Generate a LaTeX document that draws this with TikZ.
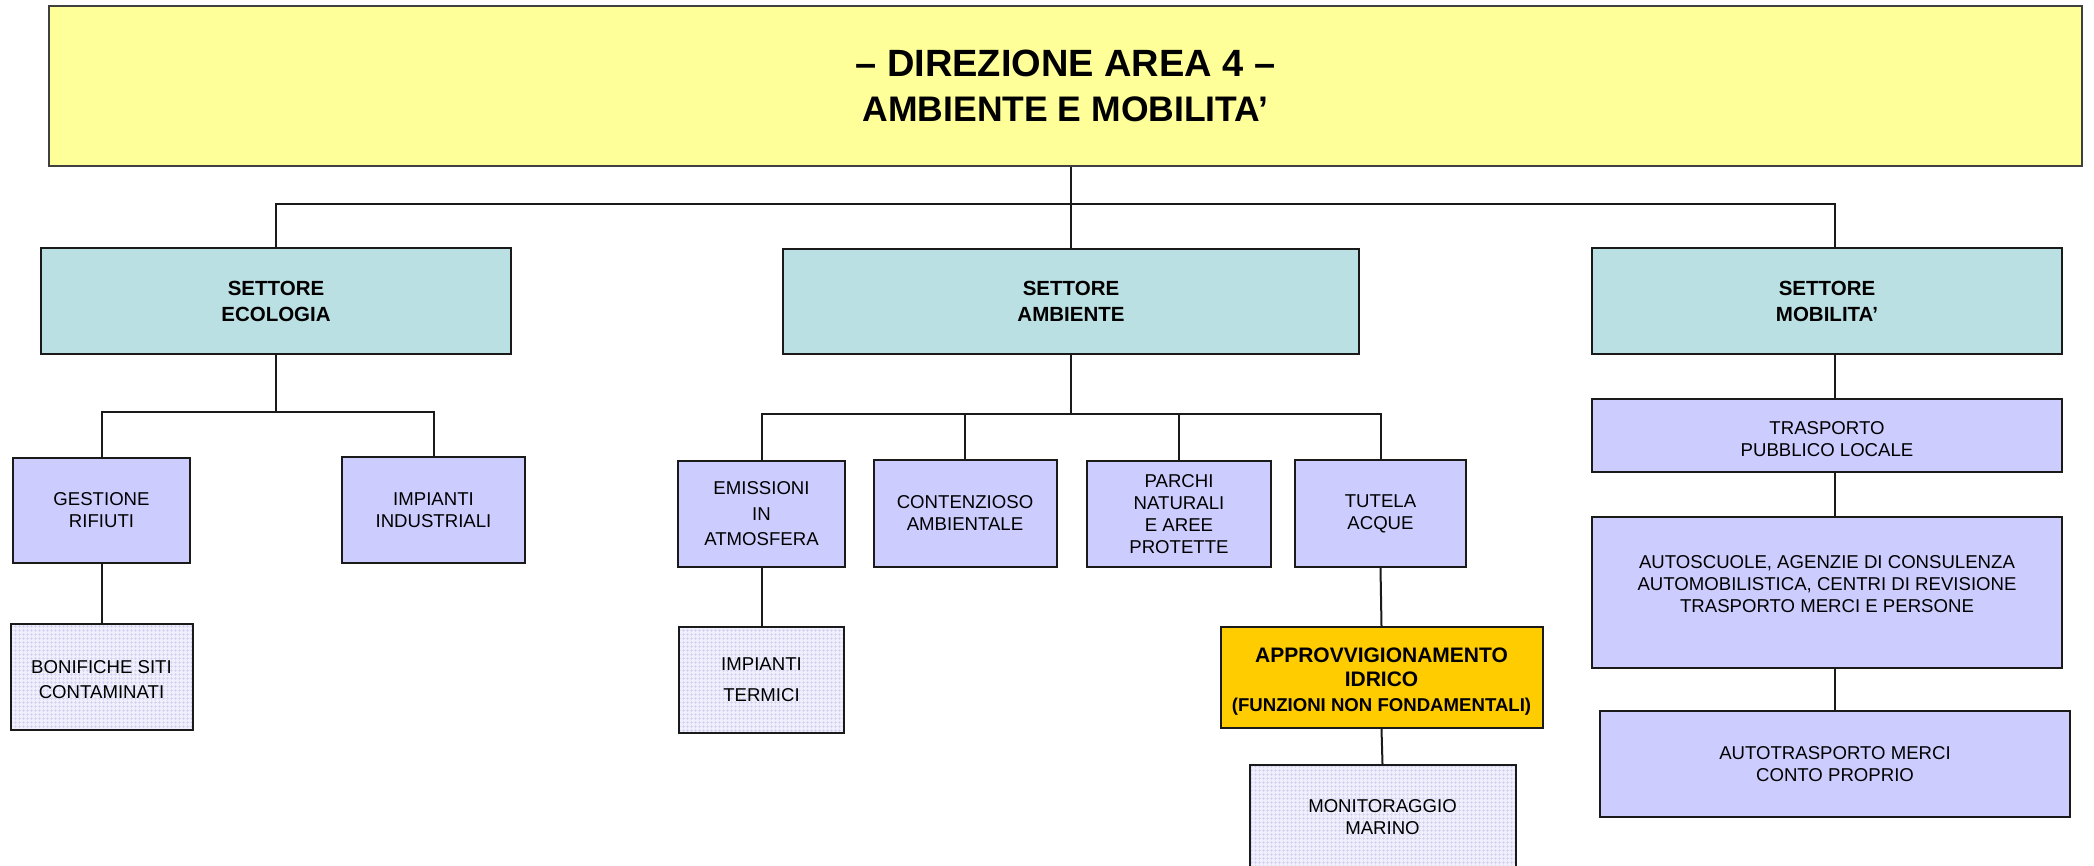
\documentclass[tikz,border=0pt]{standalone}
\usepackage{fontspec}
\setmainfont{Liberation Sans}
\usetikzlibrary{patterns.meta}
\definecolor{titlefill}{HTML}{FFFF99}
\definecolor{tealfill}{HTML}{BBE0E3}
\definecolor{lavfill}{HTML}{CCCCFF}
\definecolor{goldfill}{HTML}{FFCC00}
\definecolor{patbg}{HTML}{F0F0FC}
\definecolor{patline}{HTML}{CDCDF0}
\definecolor{edge}{HTML}{1A1A1A}
\begin{document}
\begin{tikzpicture}[x=1pt,y=-1pt,
  box/.style={draw=edge, line width=2pt, rectangle, inner sep=0pt, align=center, text=black},
  reg/.style={font=\fontsize{18.6}{22}\selectfont},
  settore/.style={box, fill=tealfill, font=\bfseries\fontsize{20.5}{26}\selectfont},
  ufficio/.style={box, fill=lavfill, reg},
  retino/.style={box, reg, preaction={fill=patbg}, pattern={Hatch[distance=4pt,angle=0,line width=0.6pt]}, pattern color=patline},
  conn/.style={draw=edge, line width=2pt},
  sz/.style 2 args={minimum width=#1pt, minimum height=#2pt}
]
\useasboundingbox (0,0) rectangle (2094,866);

% title
\node[box, fill=titlefill, draw=black!75, line width=2.5pt, sz={2033}{160},
  label={[font=\bfseries\fontsize{38}{45}\selectfont, align=center]center:{{\fontsize{38}{45}\selectfont – DIREZIONE AREA 4 –}\\{\fontsize{35.5}{45}\selectfont AMBIENTE E MOBILITA’}}}] (title) at (1065.5,86) {};

% level 1
\node[settore, sz={470}{106}] (eco) at (276,301) {SETTORE\\ECOLOGIA};
\node[settore, sz={576}{105}] (amb) at (1071,301.5) {SETTORE\\AMBIENTE};
\node[settore, sz={470}{106}] (mob) at (1827,301) {SETTORE\\MOBILITA’};

% ecologia
\node[ufficio, sz={177}{105}] (gest) at (101.5,510.5) {GESTIONE\\RIFIUTI};
\node[ufficio, sz={183}{106}] (impind) at (433.5,510) {IMPIANTI\\INDUSTRIALI};
\node[retino, sz={182}{106},
  label={[reg, font=\fontsize{18.6}{25}\selectfont, align=center, yshift=-3pt]center:{BONIFICHE SITI\\CONTAMINATI}}] (bonif) at (101.5,677) {};

% ambiente
\node[ufficio, sz={167}{106}, font=\fontsize{18.6}{25.5}\selectfont] (emi) at (761.5,514) {EMISSIONI\\IN\\ATMOSFERA};
\node[ufficio, sz={183}{107}] (cont) at (965,513.5) {CONTENZIOSO\\AMBIENTALE};
\node[ufficio, sz={184}{106}] (parchi) at (1179,514) {PARCHI\\NATURALI\\E AREE\\PROTETTE};
\node[ufficio, sz={171}{107}] (tutela) at (1380.5,513.5) {TUTELA\\ACQUE};
\node[retino, sz={165}{106}, font=\fontsize{18.6}{31}\selectfont] (imt) at (761.5,680) {IMPIANTI\\TERMICI};
\node[box, fill=goldfill, sz={322}{101},
  label={[font=\bfseries\fontsize{21}{24.5}\selectfont, align=center, yshift=-4pt]center:{APPROVVIGIONAMENTO\\IDRICO\\{\fontsize{18.6}{22}\selectfont (FUNZIONI NON FONDAMENTALI)}}}] (appr) at (1381.5,677.5) {};
\node[retino, sz={266}{104}] (moni) at (1382.5,817) {MONITORAGGIO\\MARINO};

% mobilita
\node[ufficio, sz={470}{73},
  label={[reg, align=center, yshift=-4pt]center:{TRASPORTO\\PUBBLICO LOCALE}}] (tpl) at (1827,435.5) {};
\node[ufficio, sz={470}{151},
  label={[reg, align=center, yshift=8pt]center:{AUTOSCUOLE, AGENZIE DI CONSULENZA\\AUTOMOBILISTICA, CENTRI DI REVISIONE\\TRASPORTO MERCI E PERSONE}}] (auto) at (1827,592.5) {};
\node[ufficio, sz={470}{106}] (autotr) at (1835,764) {AUTOTRASPORTO MERCI\\CONTO PROPRIO};

% connectors
\coordinate (bus) at (1071,204);
\coordinate (ecobus) at (276,412);
\coordinate (ambbus) at (1071,414);
\draw[conn] (title.south -| amb.north) -- (bus);
\draw[conn] (eco.north) |- (bus) -| (mob.north -| autotr.north);
\draw[conn] (bus) -- (amb.north);

\draw[conn] (eco.south) -- (ecobus);
\draw[conn] (gest.north) |- (ecobus) -| (impind.north);
\draw[conn] (gest.south) -- (bonif.north);

\draw[conn] (amb.south) -- (ambbus);
\draw[conn] (emi.north) |- (ambbus) -| (tutela.north);
\draw[conn] (cont.north) -- (cont.north |- ambbus);
\draw[conn] (parchi.north) -- (parchi.north |- ambbus);
\draw[conn] (emi.south) -- (imt.north);
\draw[conn] (tutela.south) -- (appr.north);
\draw[conn] (appr.south) -- (moni.north);

\draw[conn] (mob.south -| autotr.north) -- (tpl.north -| autotr.north);
\draw[conn] (tpl.south -| autotr.north) -- (auto.north -| autotr.north);
\draw[conn] (auto.south -| autotr.north) -- (autotr.north);
\end{tikzpicture}
\end{document}
